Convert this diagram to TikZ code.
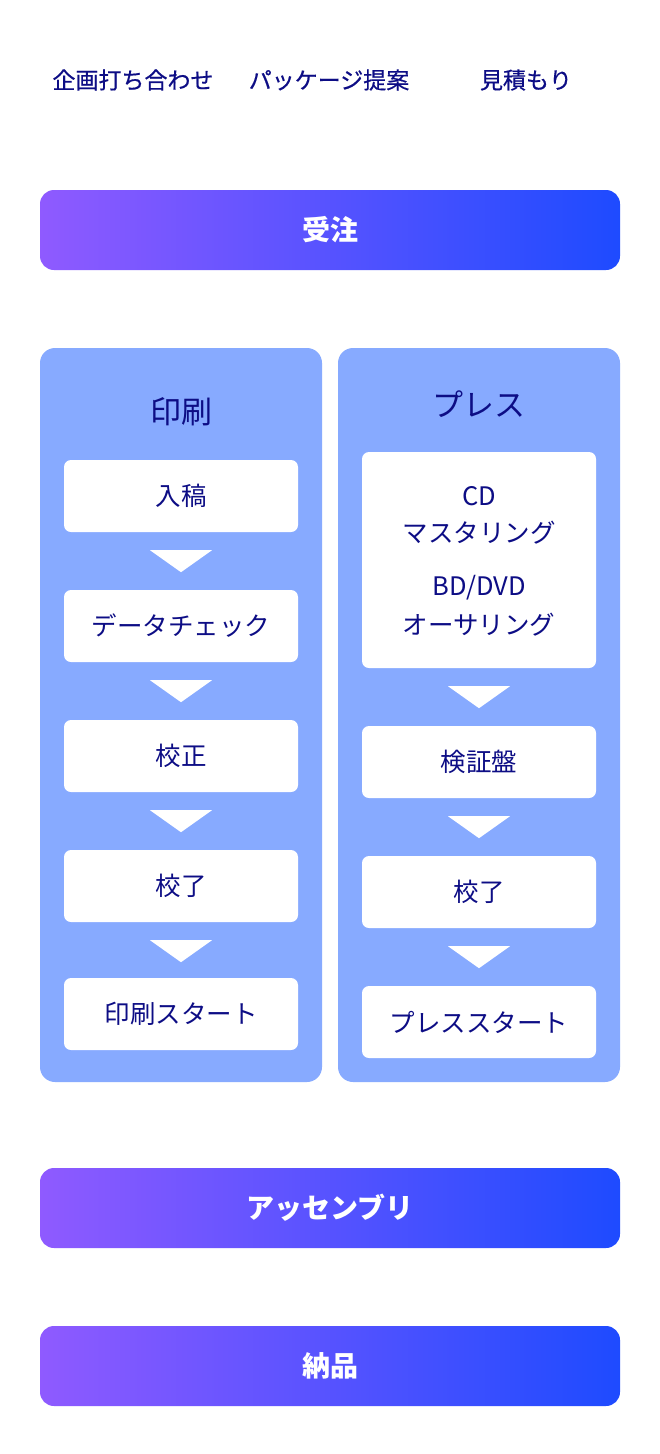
\documentclass[tikz,border=0pt]{standalone}
\usepackage{fontspec}
\setmainfont{Noto Sans CJK JP}
\newfontfamily\jpmed[FakeBold=0.5]{Noto Sans CJK JP}
\usetikzlibrary{calc}
\definecolor{navytext}{HTML}{0D0D85}
\definecolor{panelblue}{HTML}{87AAFF}
\definecolor{gradL}{HTML}{8F5AFF}
\definecolor{gradR}{HTML}{1E4BFF}
\tikzset{
  toplabel/.style={font=\jpmed\fontsize{23}{26}\selectfont, text=navytext, inner sep=0pt},
  bandtext/.style={font=\fontsize{28}{32}\bfseries\selectfont, text=white, inner sep=0pt},
  paneltitle/.style={font=\fontsize{31}{36}\selectfont, text=navytext, inner sep=0pt},
  steptext/.style={font=\fontsize{25.5}{30}\selectfont, text=navytext, inner sep=0pt},
  stepbox/.style={fill=white, rounded corners=7pt, minimum width=234pt, minimum height=72pt,
    inner sep=0pt, steptext, align=center},
  panelbox/.style={fill=panelblue, rounded corners=15pt, minimum width=282pt, minimum height=734pt, inner sep=0pt},
  bandbox/.style={rounded corners=14pt, left color=gradL, right color=gradR},
}
\newcommand{\downtri}[1]{\fill[white] ($(#1.south)+(-31,18)$) -- ++(62,0) -- ++(-31,22) -- cycle;}
\begin{document}
\begin{tikzpicture}[x=1pt,y=-1pt]
\useasboundingbox (0,0) rectangle (660,1454);
\fill[white] (0,0) rectangle (660,1454);
% top labels
\node[toplabel] (kikaku) at (133,80) {企画打ち合わせ};
\node[toplabel] (package) at (329,80) {パッケージ提案};
\node[toplabel] (mitsumori) at (526,80) {見積もり};
% bands
\shade[bandbox] (40,190) rectangle (620,270);
\node[bandtext] (juchu) at (330,230) {受注};
\shade[bandbox] (40,1168) rectangle (620,1248);
\node[bandtext] (assembly) at (330,1208) {アッセンブリ};
\shade[bandbox] (40,1326) rectangle (620,1406);
\node[bandtext] (nohin) at (330,1366) {納品};
% panels
\node[panelbox] (leftpanel) at (181,715) {};
\node[panelbox] (rightpanel) at (479,715) {};
\node[paneltitle] (insatsu) at (181,412) {印刷};
\node[paneltitle] (press) at (479,404) {プレス};
% left steps
\node[stepbox] (nyuko) at (181,496) {入稿};
\node[stepbox] (check) at (181,626) {データチェック};
\node[stepbox] (kosei) at (181,756) {校正};
\node[stepbox] (koryoL) at (181,886) {校了};
\node[stepbox] (istart) at (181,1014) {印刷スタート};
\downtri{nyuko}
\downtri{check}
\downtri{kosei}
\downtri{koryoL}
% right steps
\node[stepbox, minimum height=216pt] (master) at (479,560) {};
\node[steptext] (cd) at (479,496) {CD};
\node[steptext] (mastering) at (479,533) {マスタリング};
\node[steptext] (bddvd) at (479,588) {BD/DVD};
\node[steptext] (authoring) at (479,625) {オーサリング};
\node[stepbox] (kensho) at (479,762) {検証盤};
\node[stepbox] (koryoR) at (479,892) {校了};
\node[stepbox] (pstart) at (479,1022) {プレススタート};
\downtri{master}
\downtri{kensho}
\downtri{koryoR}
\end{tikzpicture}
\end{document}
